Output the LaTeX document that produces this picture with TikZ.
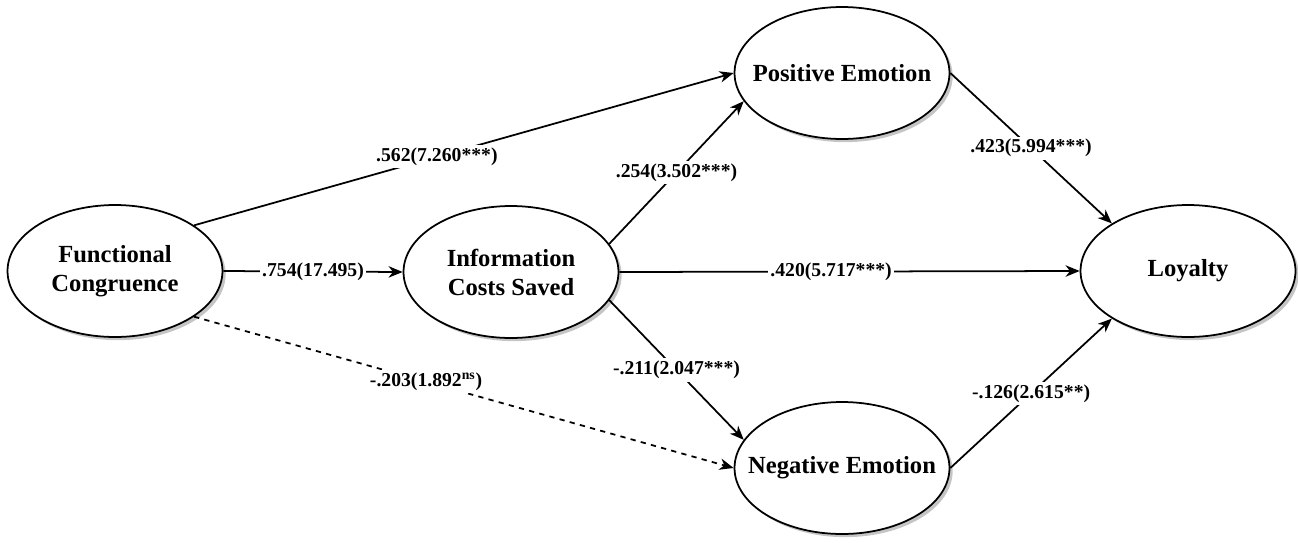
\documentclass[tikz,border=0pt]{standalone}
\usepackage{fontspec}
\setmainfont{Liberation Serif}
\usetikzlibrary{shapes.geometric,arrows.meta,shadows}
\begin{document}
\begin{tikzpicture}[x=0.02cm, y=-0.02cm, line join=round,
  >={Stealth[length=8pt,width=6.5pt,inset=2.5pt]},
  latent/.style={ellipse, draw, line width=1pt, fill=white,
    minimum width=4.3cm, minimum height=2.64cm, inner xsep=-15pt, inner ysep=-10pt, align=center,
    font=\fontsize{14}{16.5}\selectfont\bfseries,
    drop shadow={shadow xshift=1.8pt, shadow yshift=-1.8pt, fill=black!45}},
  link/.style={->, line width=1pt},
  coef/.style={fill=white, inner sep=1.5pt, font=\fontsize{11.2}{13}\selectfont\bfseries}]
  \useasboundingbox (0,0) rectangle (1298,542);
  % constructs
  \node[latent] (fc) at (115,271) {Functional\\Congruence};
  \node[latent] (ics) at (511,272) {Information\\Costs Saved};
  \node[latent] (pe) at (842,73) {Positive Emotion};
  \node[latent] (ne) at (842,468) {Negative Emotion};
  \node[latent] (loy) at (1188,271) {Loyalty};
  % paths
  \draw[link] (fc.30) -- node[coef,pos=.45] (c1) {.562(7.260***)} (pe.west);
  \draw[link] (fc.east) -- node[coef] (c2) {.754(17.495)} (ics.west);
  \draw[link,dashed] (fc.-30) -- node[coef,pos=.43] (c3) {-.203(1.892\textsuperscript{ns})} (ne.west);
  \draw[link] (ics.16) -- node[coef] (c4) {.254(3.502***)} (pe.196);
  \draw[link] (ics.-16) -- node[coef] (c5) {-.211(2.047***)} (ne.164);
  \draw[link] (ics.east) -- node[coef,pos=.46] (c6) {.420(5.717***)} (loy.west);
  \draw[link] (pe.east) -- node[coef] (c7) {.423(5.994***)} (loy.148);
  \draw[link] (ne.east) -- node[coef] (c8) {-.126(2.615**)} (loy.212);
\end{tikzpicture}
\end{document}
